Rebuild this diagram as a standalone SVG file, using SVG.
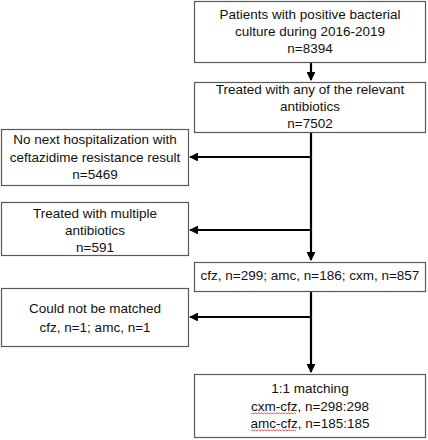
<svg xmlns="http://www.w3.org/2000/svg" width="428" height="440" viewBox="0 0 428 440">
<style>
.box{fill:#fff;stroke:#595959;stroke-width:1.2}
.t{font-family:"Liberation Sans",Arial,sans-serif;font-size:13.5px;fill:#111;text-anchor:middle}
.c{fill:none;stroke:#000;stroke-width:2.2}
.sq{fill:none;stroke:#e03030;stroke-width:0.8}
</style>
<defs>
<marker id="ah" viewBox="0 0 10 10" refX="9" refY="5" markerWidth="4" markerHeight="4" orient="auto" markerUnits="strokeWidth">
<path d="M0,0 L10,5 L0,10 z" fill="#000"/>
</marker>
</defs>
<rect width="428" height="440" fill="#fff"/>
<g id="connectors">
<line class="c" x1="311" y1="63" x2="311" y2="80" marker-end="url(#ah)"/>
<line class="c" x1="311" y1="132" x2="311" y2="260" marker-end="url(#ah)"/>
<line class="c" x1="311" y1="157" x2="190" y2="157" marker-end="url(#ah)"/>
<line class="c" x1="311" y1="230" x2="190" y2="230" marker-end="url(#ah)"/>
<line class="c" x1="311" y1="291" x2="311" y2="372" marker-end="url(#ah)"/>
<line class="c" x1="311" y1="317" x2="190" y2="317" marker-end="url(#ah)"/>
</g>
<g id="n1">
<rect class="box" x="194.5" y="1.5" width="231" height="61"/>
<text class="t" x="310" y="19">Patients with positive bacterial</text>
<text class="t" x="310" y="36">culture during 2016-2019</text>
<text class="t" x="310" y="53">n=8394</text>
</g>
<g id="n2">
<rect class="box" x="194.5" y="82.5" width="231" height="50"/>
<text class="t" x="310" y="94">Treated with any of the relevant</text>
<text class="t" x="310" y="111">antibiotics</text>
<text class="t" x="310" y="128">n=7502</text>
</g>
<g id="n3">
<rect class="box" x="1.5" y="129.5" width="187" height="56"/>
<text class="t" x="95" y="144">No next hospitalization with</text>
<text class="t" x="95" y="162">ceftazidime resistance result</text>
<text class="t" x="95" y="179">n=5469</text>
</g>
<g id="n4">
<rect class="box" x="1.5" y="202.5" width="187" height="53"/>
<text class="t" x="95" y="218">Treated with multiple</text>
<text class="t" x="95" y="235">antibiotics</text>
<text class="t" x="95" y="252">n=591</text>
</g>
<g id="n5">
<rect class="box" x="194.5" y="262.5" width="231" height="29"/>
<text class="t" x="310" y="280">cfz, n=299; amc, n=186; cxm, n=857</text>
</g>
<g id="n6">
<rect class="box" x="1.5" y="288.5" width="187" height="58"/>
<text class="t" x="95" y="313">Could not be matched</text>
<text class="t" x="95" y="332">cfz, n=1; amc, n=1</text>
</g>
<g id="n7">
<rect class="box" x="194.5" y="374.5" width="231" height="63"/>
<text class="t" x="310" y="393">1:1 matching</text>
<text class="t" x="310" y="411">cxm-cfz, n=298:298</text>
<text class="t" x="310" y="428">amc-cfz, n=185:185</text>
<path class="sq" d="M251,414 l1.5,-1.2 l1.5,1.2 l1.5,-1.2 l1.5,1.2 l1.5,-1.2 l1.5,1.2 l1.5,-1.2 l1.5,1.2 l1.5,-1.2 l1.5,1.2 l1.5,-1.2 l1.5,1.2 l1.5,-1.2 l1.5,1.2 l1.5,-1.2 l1.5,1.2 l1.5,-1.2 l1.5,1.2 l1.5,-1.2 l1.5,1.2 l1.5,-1.2 l1.5,1.2 l1.5,-1.2 l1.5,1.2 l1.5,-1.2 l1.5,1.2 l1.5,-1.2 l1.5,1.2 l1.5,-1.2 l1.5,1.2"/>
<path class="sq" d="M251,431 l1.5,-1.2 l1.5,1.2 l1.5,-1.2 l1.5,1.2 l1.5,-1.2 l1.5,1.2 l1.5,-1.2 l1.5,1.2 l1.5,-1.2 l1.5,1.2 l1.5,-1.2 l1.5,1.2 l1.5,-1.2 l1.5,1.2 l1.5,-1.2 l1.5,1.2 l1.5,-1.2 l1.5,1.2 l1.5,-1.2 l1.5,1.2 l1.5,-1.2 l1.5,1.2 l1.5,-1.2 l1.5,1.2 l1.5,-1.2 l1.5,1.2 l1.5,-1.2 l1.5,1.2 l1.5,-1.2 l1.5,1.2"/>
</g>
</svg>
